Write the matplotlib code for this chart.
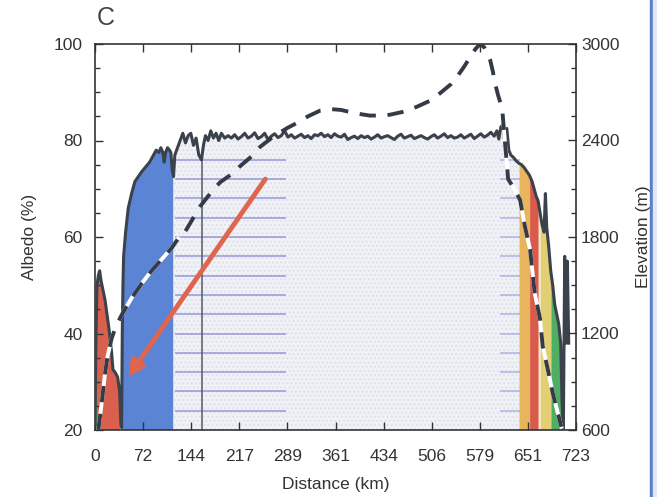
import numpy as np
import matplotlib
matplotlib.use("Agg")
import matplotlib.pyplot as plt
from matplotlib.patches import Rectangle

plt.rcParams["font.family"] = ["Liberation Sans", "DejaVu Sans"]

# ── data ─────────────────────────────────────────────────────────────────────
dist_albedo = [0, 1.5, 3, 5, 7, 9, 12, 15, 18, 21, 25, 27, 30, 34, 37, 39, 40,
               41, 42, 43, 46, 50, 55, 60, 65, 70, 76, 82, 88, 92, 96, 99, 102,
               104, 106, 109, 112, 114, 116, 118, 120, 124, 128, 132, 136, 140,
               144, 148, 152, 156, 160, 163, 166, 170, 174, 178, 182, 186, 190,
               195, 200, 205, 210, 215, 220, 225, 230, 235, 240, 245, 250, 255,
               260, 265, 270, 275, 280, 285, 290, 295, 300, 305, 310, 315, 320,
               325, 330, 335, 340, 345, 350, 355, 360, 365, 370, 375, 380, 385,
               390, 395, 400, 405, 410, 415, 420, 425, 430, 435, 440, 445, 450,
               455, 460, 465, 470, 475, 480, 485, 490, 495, 500, 505, 510, 515,
               520, 525, 530, 535, 540, 545, 550, 555, 560, 565, 570, 575, 580,
               585, 590, 595, 600, 604, 607, 610, 613, 616, 619, 622, 625, 629,
               633, 637, 641, 645, 649, 653, 657, 660, 663, 666, 669, 672, 675,
               677, 679, 682, 685, 688, 691, 694, 697, 700, 702, 704, 706, 708,
               710, 712]
albedo = [21, 40, 50, 52, 53, 51, 49, 47, 44, 41, 36, 32.5, 32, 31, 28, 21, 20.5,
          40, 50, 56, 61, 66, 69, 71.5, 72.5, 73.5, 74.5, 75.5, 77, 78, 77.5, 78.5,
          77.5, 75.5, 77.5, 78.5, 78, 77.5, 74, 72.5, 77, 78.5, 80, 81.5, 79.5,
          81, 81.5, 79, 80.5, 77, 76, 79, 81, 80, 82, 80.5, 81.5, 80, 81.5,
          80.5, 81, 80.5, 81.2, 80.3, 80.8, 81.5, 80.5, 80.9, 81.6, 80.4, 80.8,
          81.5, 80.2, 80.9, 81.4, 80.6, 81.0, 82.0, 80.7, 81.2, 80.5, 80.9,
          81.3, 80.6, 81.0, 80.4, 81.2, 81.0, 81.5, 80.8, 81.2, 80.6, 81.4,
          80.9, 80.7, 81.3, 80.2, 80.6, 80.9, 80.4, 81.0, 80.6, 80.9, 80.3,
          80.7, 81.2, 80.5, 80.8, 81.0, 80.6, 80.2, 80.9, 81.3, 80.5, 80.8,
          81.1, 80.4, 80.7, 81.0, 80.6, 80.3, 80.8, 81.2, 80.5, 80.9, 81.4,
          80.6, 81.0, 80.5, 80.7, 81.2, 80.5, 80.9, 81.3, 80.4, 80.9, 81.4,
          80.7, 81.1, 81.7, 80.9, 82.0, 80.3, 82.8, 83.2, 79.5, 82.5, 78, 77,
          76.5, 75.8, 75.3, 75, 74.4, 73.6, 72.8, 71.5, 70, 68.5, 67.5, 65, 62.5,
          61, 69, 62, 58, 53, 50, 46, 44, 42, 38, 26, 20, 56, 38, 55, 38]

dist_elev = [5, 8, 11, 15, 19, 25, 32, 42, 55, 70, 85, 100, 115, 125, 135, 158,
             175, 188, 205, 218, 235, 248, 270, 290, 304, 320, 338, 355, 370,
             390, 413, 430, 443, 465, 484, 505, 519, 535, 544, 555, 564, 572,
             579, 585, 590, 594, 598, 601, 606, 612, 616, 621, 630, 639, 646,
             654, 661, 669, 673, 681, 688, 696, 701]
elevation = [600, 700, 800, 950, 1060, 1170, 1250, 1330, 1420, 1510, 1590, 1660,
             1730, 1790, 1830, 1990, 2080, 2140, 2190, 2240, 2300, 2360, 2430,
             2480, 2510, 2550, 2585, 2595, 2590, 2570, 2555, 2555, 2560, 2580,
             2610, 2650, 2695, 2750, 2795, 2860, 2920, 2970, 3000, 2980, 2940,
             2900, 2830, 2760, 2680, 2600, 2400, 2160, 2100, 2030, 1870, 1720,
             1450, 1290, 1120, 970, 830, 700, 620]

# surface classes along the transect: (start km, end km, colour)
band_start = [0, 3, 40, 118, 638, 654, 667, 670, 686, 701]
band_end = [3, 38, 118, 638, 654, 667, 670, 686, 701, 705]
band_color = ["#4e9656", "#d9604e", "#5b84d4", "#f0f2f6", "#e9b55c",
              "#d95a48", "#f1e7c4", "#e2cf74", "#4fae63", "#8cc9d6"]
stipple = "#f0f2f6"

hatch_levels = [76, 72, 68, 64, 60, 56, 52, 48, 44, 40, 36, 32, 28, 24]
hatch_left = (120, 287)
hatch_right = (609, 639)

xtick_pos = [72.3 * i for i in range(11)]
xtick_lab = ["0", "72", "144", "217", "289", "361", "434", "506", "579", "651", "723"]

# ── figure ───────────────────────────────────────────────────────────────────
fig = plt.figure(figsize=(6.57, 4.97), dpi=100)
ax = fig.add_axes([95 / 657, 1 - 430 / 497, 481 / 657, 386 / 497])
ink = "#333333"

km = np.asarray(dist_albedo, float)
alb = np.asarray(albedo, float)
for x0, x1, c in zip(band_start, band_end, band_color):
    inside = km[(km > x0) & (km < x1)]
    xs = np.concatenate(([x0], inside, [x1]))
    top = np.interp(xs, km, alb)
    if c == stipple:
        ax.fill_between(xs, 20, top, facecolor=c, edgecolor="#dde1ea",
                        hatch="....", linewidth=0, zorder=1)
    else:
        ax.fill_between(xs, 20, top, facecolor=c, linewidth=0, zorder=1)

for lv in hatch_levels:
    ax.hlines(lv, *hatch_left, color="#9c9ddb", lw=1.4, alpha=0.85, zorder=2)
    ax.hlines(lv, *hatch_right, color="#9c9ddb", lw=1.2, alpha=0.7, zorder=2)
ax.vlines(161, 20, 77, color="#555a66", lw=1.1, zorder=2)

ax.plot(km, alb, color="#3c424c", lw=2.2, zorder=4)

ax.annotate("", xy=(50, 31), xytext=(256, 72),
            arrowprops=dict(arrowstyle="-|>,head_width=0.45,head_length=0.9",
                            color="#e0654f", lw=3.5, shrinkA=0, shrinkB=0),
            zorder=6)

ax.set_xlim(0, 723)
ax.set_ylim(20, 100)
ax.set_xticks(xtick_pos)
ax.set_xticklabels(xtick_lab)
ax.set_yticks([20, 40, 60, 80, 100])
ax.set_yticks(np.arange(20, 101, 5), minor=True)
ax.tick_params(axis="both", which="major", direction="in", length=6, width=1,
               colors=ink, labelsize=12.5, top=True)
ax.tick_params(axis="y", which="minor", direction="in", length=3.5, width=1,
               colors=ink)
ax.tick_params(axis="x", pad=14)
ax.tick_params(axis="y", pad=9)
ax.set_xlabel("Distance (km)", fontsize=12.5, color=ink, labelpad=9)
ax.set_ylabel("Albedo (%)", fontsize=12.5, color=ink, labelpad=12)
for s in ax.spines.values():
    s.set_color(ink)
    s.set_linewidth(1.2)

ax2 = ax.twinx()
ax2.set_ylim(600, 3000)
ax2.set_yticks([600, 1200, 1800, 2400, 3000])
ax2.set_yticks(np.arange(600, 3001, 150), minor=True)
ax2.tick_params(axis="y", which="major", direction="in", length=6, width=1,
                colors=ink, labelsize=12.5)
ax2.tick_params(axis="y", which="minor", direction="in", length=3.5, width=1,
                colors=ink)
ax2.set_ylabel("Elevation (m)", fontsize=12.5, color=ink, labelpad=12)
for s in ax2.spines.values():
    s.set_visible(False)

de = np.asarray(dist_elev, float)
el = np.asarray(elevation, float)
ax2.plot(np.where(de <= 128, de, np.nan), el, color="white", lw=2.8, zorder=3)
ax2.plot(np.where(de >= 612, de, np.nan), el, color="white", lw=2.8, zorder=3)
ax2.plot(de, el, color="#353b46", lw=2.8, dashes=(4.2, 3.0), zorder=4)

fig.text(97 / 657, 1 - 18 / 497, "C", fontsize=18, color="#444444",
         ha="left", va="center")

# scanned page edge on the right
fig.patches.append(Rectangle((650 / 657, 0), 3 / 657, 1, transform=fig.transFigure,
                             color="#5b80c8", zorder=0))
fig.patches.append(Rectangle((653 / 657, 0), 4 / 657, 1, transform=fig.transFigure,
                             color="#dfe7f5", zorder=0))

fig.savefig("out.png", dpi=100)
